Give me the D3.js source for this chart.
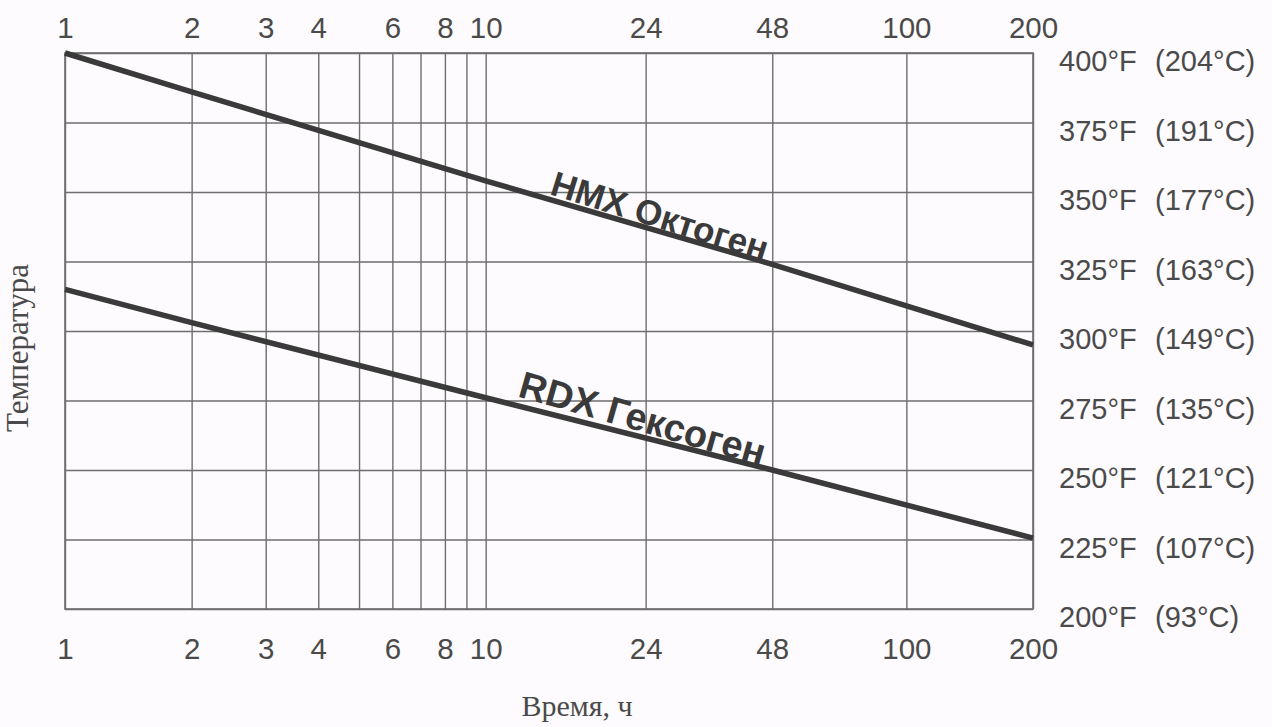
<!DOCTYPE html>
<html><head><meta charset="utf-8">
<script src="https://cdn.jsdelivr.net/npm/d3@7"></script>
<style>
html,body{margin:0;padding:0;background:#fdfbfd;}
svg{display:block;}
</style></head>
<body>
<svg id="c" width="1272" height="727"></svg>
<script>
// ---- data ----
const gridHours = [1,2,3,4,5,6,7,8,9,10,24,48,100,200];
const tickHours = [1,2,3,4,6,8,10,24,48,100,200];
const tempF = [200,225,250,275,300,325,350,375,400];
const tempC = [93,107,121,135,149,163,177,191,204];
const hmxHours = [1,2,10,48,200];
const hmxTemp  = [400,386,354,324,295];
const rdxHours = [1,2,10,48,200];
const rdxTemp  = [315,303,276,250,225.5];
const seriesNames = ["HMX Октоген","RDX Гексоген"];
const labelStartHours = [14,11.7];
const xTitle = "Время, ч";
const yTitle = "Температура";

// ---- layout ----
const L=65, R=1033, T=53, B=609;
const svg = d3.select("#c");
const x = d3.scaleLog().domain([1,200]).range([L,R]);
const y = d3.scaleLinear().domain([200,400]).range([B,T]);
const gridCol="#6e6e6e", inkCol="#3a3a3a", textCol="#4a4a4a";
const sans="'Liberation Sans', Arial, sans-serif";
const serif="'Liberation Serif', 'Times New Roman', serif";

// vertical grid
const gx = svg.append("g").attr("transform",`translate(0,${B})`)
  .call(d3.axisBottom(x).tickValues(gridHours).tickSize(-(B-T)).tickFormat(""));
gx.select(".domain").remove();
gx.selectAll("line").attr("stroke",gridCol).attr("stroke-width",1.4);
// horizontal grid
const gy = svg.append("g").attr("transform",`translate(${L},0)`)
  .call(d3.axisLeft(y).tickValues(tempF).tickSize(-(R-L)).tickFormat(""));
gy.select(".domain").remove();
gy.selectAll("line").attr("stroke",gridCol).attr("stroke-width",1.4);
// frame
svg.append("rect").attr("x",L).attr("y",T).attr("width",R-L).attr("height",B-T)
  .attr("fill","none").attr("stroke",gridCol).attr("stroke-width",1.6);

// top / bottom tick labels
const fmt = d=>String(d);
const ta = svg.append("g").attr("transform",`translate(0,${T})`)
  .call(d3.axisTop(x).tickValues(tickHours).tickSize(0).tickPadding(15).tickFormat(fmt));
const ba = svg.append("g").attr("transform",`translate(0,${B})`)
  .call(d3.axisBottom(x).tickValues(tickHours).tickSize(0).tickPadding(29).tickFormat(fmt));
[ta,ba].forEach(a=>{
  a.select(".domain").remove();
  a.selectAll("text").attr("font-family",sans).attr("font-size",29.5).attr("fill",textCol);
});

// right labels
const rl = svg.append("g");
tempF.forEach((f,i)=>{
  rl.append("text").attr("x",1059).attr("y",y(f)+18)
    .attr("font-family",sans).attr("font-size",29).attr("fill",textCol)
    .text(f+"°F");
  rl.append("text").attr("x",1155).attr("y",y(f)+18)
    .attr("font-family",sans).attr("font-size",29).attr("fill",textCol)
    .text("("+tempC[i]+"°C)");
});

// lines
const line = d3.line().x(d=>x(d[0])).y(d=>y(d[1]));
const series = [
  {h:hmxHours,t:hmxTemp},
  {h:rdxHours,t:rdxTemp}
];
const offsets=[-5,-9];
const sizes=[35,38];
const extraAng=[0.5,1.5];
series.forEach((s,i)=>{
  const pts = s.h.map((h,j)=>[h,s.t[j]]);
  svg.append("path").datum(pts).attr("d",line)
    .attr("fill","none").attr("stroke",inkCol).attr("stroke-width",5.5)
    .attr("stroke-linecap","butt");
  const interp = d3.scaleLog().domain(s.h).range(s.t);
  const h0 = labelStartHours[i];
  const px = x(h0), py = y(interp(h0));
  const ang = Math.atan2(y(s.t[s.t.length-1])-y(s.t[0]), x(s.h[s.h.length-1])-x(s.h[0]))*180/Math.PI + extraAng[i];
  svg.append("text")
    .attr("transform",`translate(${px},${py}) rotate(${ang})`)
    .attr("y",offsets[i])
    .attr("font-family",sans).attr("font-weight","bold").attr("font-size",sizes[i])
    .attr("fill",inkCol).text(seriesNames[i]);
});

// axis titles
svg.append("text").attr("x",577).attr("y",716).attr("text-anchor","middle")
  .attr("font-family",serif).attr("font-size",30).attr("fill",textCol).text(xTitle);
svg.append("text").attr("transform","translate(28,348) rotate(-90)").attr("text-anchor","middle")
  .attr("font-family",serif).attr("font-size",31).attr("fill",textCol).text(yTitle);
</script>
</body></html>
